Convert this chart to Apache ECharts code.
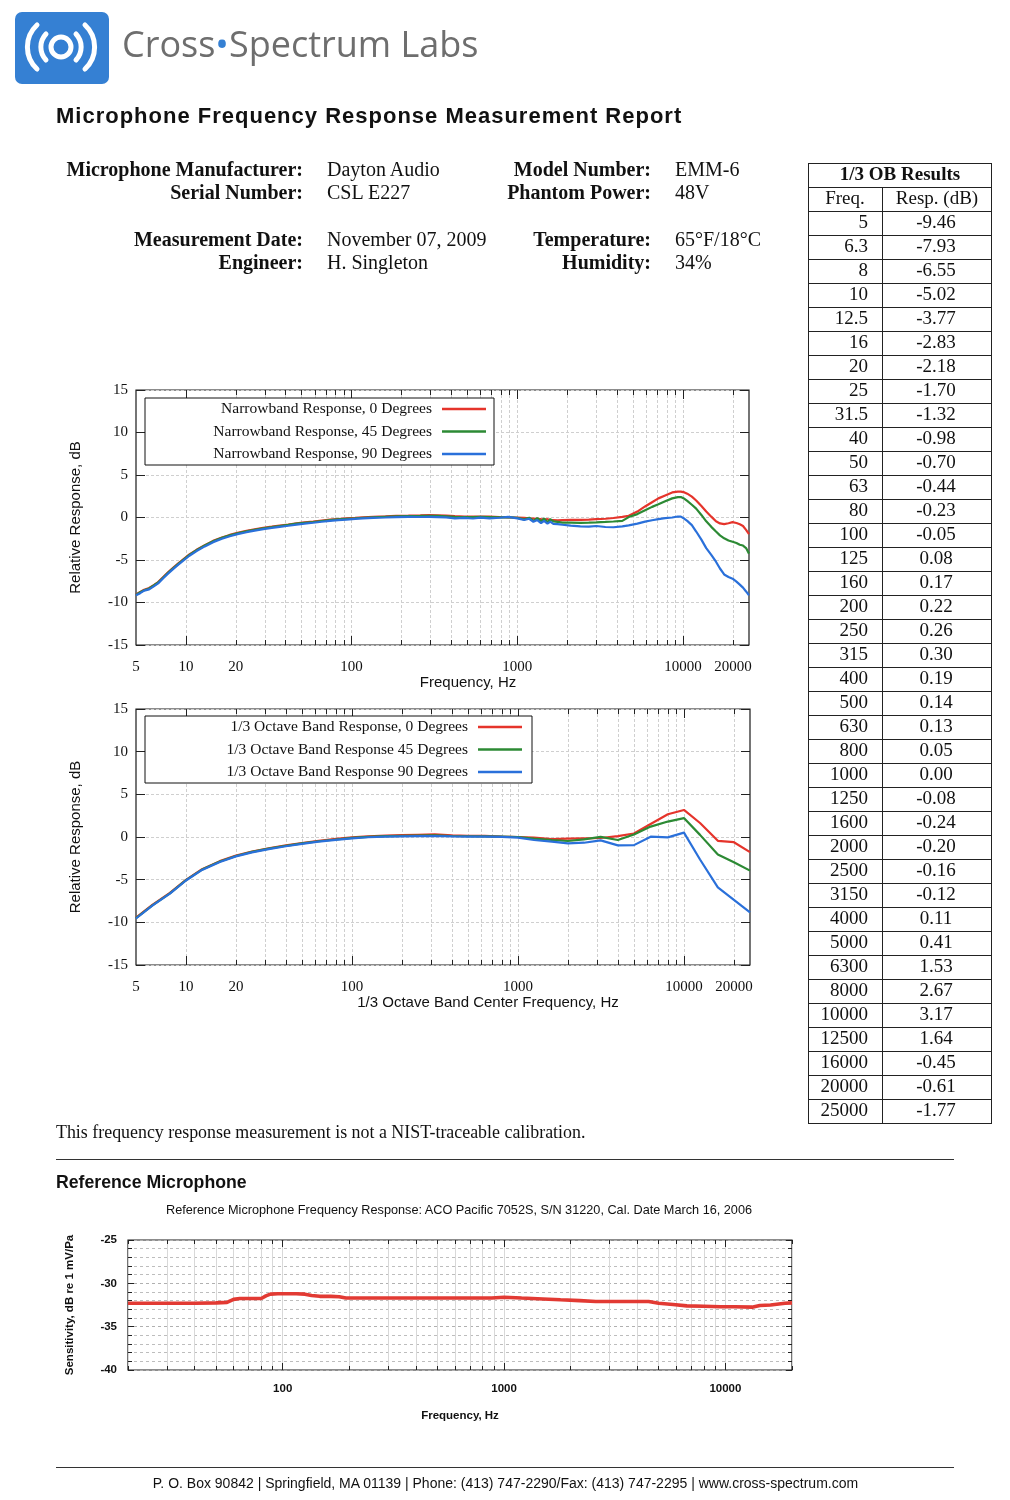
<!DOCTYPE html>
<html>
<head>
<meta charset="utf-8">
<script src="https://cdn.jsdelivr.net/npm/echarts@6/dist/echarts.min.js"></script>
<style>
html,body{margin:0;padding:0;background:#fff;}
#page{position:relative;width:1010px;height:1500px;overflow:hidden;background:#fff;}
#chart{position:absolute;left:0;top:0;width:1010px;height:1500px;}
.t{position:absolute;white-space:nowrap;line-height:1;color:#111;}
.serif{font-family:"Liberation Serif","Times New Roman",serif;}
.sans{font-family:"Liberation Sans",Arial,sans-serif;}
.b{font-weight:bold;}
.r{text-align:right;}
.rule{position:absolute;left:56px;width:898px;height:1px;background:#333;}
</style>
</head>
<body>
<div id="page">
  <div id="chart"></div>

  <svg style="position:absolute;left:15px;top:12px" width="94" height="72" viewBox="0 0 94 72">
    <rect x="0" y="0" width="94" height="72" rx="7" ry="7" fill="#3580d3"/>
    <circle cx="46" cy="35" r="10" fill="none" stroke="#fff" stroke-width="5"/>
    <path d="M31 22 A19 19 0 0 0 31 48" fill="none" stroke="#fff" stroke-width="5" stroke-linecap="round"/>
    <path d="M61 22 A19 19 0 0 1 61 48" fill="none" stroke="#fff" stroke-width="5" stroke-linecap="round"/>
    <path d="M22 13 A30 30 0 0 0 22 57" fill="none" stroke="#fff" stroke-width="5" stroke-linecap="round"/>
    <path d="M70 13 A30 30 0 0 1 70 57" fill="none" stroke="#fff" stroke-width="5" stroke-linecap="round"/>
  </svg>
  <div class="t" style="left:122px;top:26px;font-family:'Open Sans',sans-serif;font-size:36px;color:#6e6e6e;">Cross<span style="color:#3580d3">•</span>Spectrum Labs</div>

  <div class="t sans b" style="left:56px;top:105px;font-size:22px;letter-spacing:1px;">Microphone Frequency Response Measurement Report</div>

  <div class="t serif b r" style="right:707px;top:159px;font-size:20px;">Microphone Manufacturer:</div>
  <div class="t serif b r" style="right:707px;top:182px;font-size:20px;">Serial Number:</div>
  <div class="t serif b r" style="right:707px;top:229px;font-size:20px;">Measurement Date:</div>
  <div class="t serif b r" style="right:707px;top:252px;font-size:20px;">Engineer:</div>
  <div class="t serif" style="left:327px;top:159px;font-size:20px;">Dayton Audio</div>
  <div class="t serif" style="left:327px;top:182px;font-size:20px;">CSL E227</div>
  <div class="t serif" style="left:327px;top:229px;font-size:20px;">November 07, 2009</div>
  <div class="t serif" style="left:327px;top:252px;font-size:20px;">H. Singleton</div>

  <div class="t serif b r" style="right:359px;top:159px;font-size:20px;">Model Number:</div>
  <div class="t serif b r" style="right:359px;top:182px;font-size:20px;">Phantom Power:</div>
  <div class="t serif b r" style="right:359px;top:229px;font-size:20px;">Temperature:</div>
  <div class="t serif b r" style="right:359px;top:252px;font-size:20px;">Humidity:</div>
  <div class="t serif" style="left:675px;top:159px;font-size:20px;">EMM-6</div>
  <div class="t serif" style="left:675px;top:182px;font-size:20px;">48V</div>
  <div class="t serif" style="left:675px;top:229px;font-size:20px;">65°F/18°C</div>
  <div class="t serif" style="left:675px;top:252px;font-size:20px;">34%</div>

  <div id="tbl"></div>

  <div class="t serif" style="left:56px;top:1124px;font-size:17.9px;">This frequency response measurement is not a NIST-traceable calibration.</div>
  <div class="rule" style="top:1159px;"></div>
  <div class="t sans b" style="left:56px;top:1174px;font-size:17.7px;">Reference Microphone</div>
  <div class="t sans" style="left:0;width:918px;text-align:center;top:1204px;font-size:12.7px;">Reference Microphone Frequency Response: ACO Pacific 7052S, S/N 31220, Cal. Date March 16, 2006</div>
  <div class="rule" style="top:1467px;"></div>
  <div class="t sans" style="left:0;width:1011px;text-align:center;top:1476px;font-size:14px;">P. O. Box 90842 | Springfield, MA 01139 | Phone: (413) 747-2290/Fax: (413) 747-2295 | www.cross-spectrum.com</div>
</div>

<script>
// ---------------- DATA ----------------
// Narrowband responses (Hz, dB)
const nbFreq = [5, 5.3, 5.6, 6.0, 6.4, 6.8, 7.3, 7.8, 8.4, 9.0,
  9.6, 10.5, 11.6, 13, 14.6, 16.5, 18.4, 20.5, 23.2, 26,
  29.3, 33, 36.8, 41.5, 46.5, 52, 58.6, 66, 74, 83,
  93, 105, 117, 135, 160, 186, 220, 260, 294, 330,
  372, 420, 480, 540, 600, 680, 780, 880, 1000, 1100,
  1180, 1250, 1320, 1390, 1450, 1520, 1580, 1650, 1750, 1870,
  2100, 2400, 2700, 3000, 3400, 3800, 4300, 4700, 5300, 5900,
  6500, 7100, 7800, 8600, 9300, 9700, 10200, 10600, 11300, 12000,
  12900, 13800, 14800, 15800, 16700, 17700, 18800, 19900, 21000, 22000,
  23000, 24000, 25000];
const nb0 = [-9.05, -8.75, -8.5, -8.3, -7.95, -7.6, -7.0, -6.45, -5.9, -5.4,
  -4.95, -4.35, -3.8, -3.25, -2.75, -2.35, -2.05, -1.8, -1.58, -1.4,
  -1.22, -1.08, -0.95, -0.82, -0.68, -0.58, -0.48, -0.36, -0.26, -0.18,
  -0.1, -0.04, 0.02, 0.08, 0.14, 0.2, 0.22, 0.25, 0.28, 0.26,
  0.22, 0.16, 0.12, 0.1, 0.12, 0.1, 0.06, 0.02, 0.0, -0.05,
  -0.1, -0.12, -0.15, -0.2, -0.24, -0.2, -0.28, -0.3, -0.34, -0.3,
  -0.28, -0.27, -0.24, -0.2, -0.15, -0.06, 0.08, 0.2, 0.7, 1.3,
  1.8, 2.25, 2.6, 2.95, 3.05, 3.05, 2.95, 2.8, 2.45, 2.0,
  1.35, 0.7, 0.1, -0.45, -0.7, -0.78, -0.68, -0.55, -0.65, -0.8,
  -1.0, -1.45, -1.95];
const nb45 = [-9.1, -8.8, -8.55, -8.35, -8.0, -7.65, -7.05, -6.5, -5.95, -5.45,
  -5.0, -4.4, -3.85, -3.3, -2.8, -2.4, -2.1, -1.85, -1.63, -1.45,
  -1.27, -1.13, -1.0, -0.87, -0.73, -0.63, -0.53, -0.41, -0.31, -0.23,
  -0.15, -0.09, -0.03, 0.03, 0.09, 0.14, 0.16, 0.18, 0.2, 0.18,
  0.14, 0.08, 0.06, 0.05, 0.08, 0.06, 0.02, 0.04, -0.05, -0.22,
  -0.02, -0.4, -0.08, -0.45, -0.12, -0.55, -0.2, -0.45, -0.52, -0.6,
  -0.6, -0.63, -0.6, -0.57, -0.52, -0.47, -0.4, 0.05, 0.4, 0.85,
  1.25, 1.55, 1.9, 2.25, 2.4, 2.4, 2.2, 1.95, 1.5, 1.05,
  0.3, -0.45, -1.1, -1.65, -2.1, -2.45, -2.7, -2.85, -3.0, -3.2,
  -3.3, -3.6, -4.25];
const nb90 = [-9.15, -8.9, -8.6, -8.45, -8.1, -7.75, -7.15, -6.6, -6.05, -5.55,
  -5.1, -4.5, -3.95, -3.4, -2.9, -2.5, -2.2, -1.95, -1.73, -1.55,
  -1.37, -1.23, -1.1, -0.97, -0.83, -0.73, -0.62, -0.5, -0.4, -0.32,
  -0.24, -0.17, -0.11, -0.05, 0.0, 0.05, 0.07, 0.06, 0.08, 0.05,
  0.02, -0.1, -0.05, -0.12, -0.02, -0.1, -0.03, 0.08, -0.1, -0.3,
  -0.15, -0.5, -0.3, -0.65, -0.4, -0.72, -0.48, -0.75, -0.78, -0.85,
  -0.95, -1.05, -1.08, -1.0, -1.12, -1.15, -1.05, -0.92, -0.72, -0.48,
  -0.32, -0.2, -0.08, 0.0, 0.12, 0.1, -0.15, -0.4, -0.9, -1.65,
  -2.6, -3.6, -4.4, -5.2, -6.0, -6.7, -7.0, -7.2, -7.55, -7.9,
  -8.25, -8.7, -9.15];

// 1/3 octave band responses (Hz, dB) — 0 degrees is also the results table
const obFreq = [5, 6.3, 8, 10, 12.5, 16, 20, 25, 31.5, 40, 50, 63, 80, 100, 125, 160, 200, 250, 315, 400,
  500, 630, 800, 1000, 1250, 1600, 2000, 2500, 3150, 4000, 5000, 6300, 8000, 10000, 12500, 16000, 20000, 25000];
const ob0 = [-9.46, -7.93, -6.55, -5.02, -3.77, -2.83, -2.18, -1.70, -1.32, -0.98, -0.70, -0.44, -0.23, -0.05, 0.08, 0.17, 0.22, 0.26, 0.30, 0.19,
  0.14, 0.13, 0.05, 0.00, -0.08, -0.24, -0.20, -0.16, -0.12, 0.11, 0.41, 1.53, 2.67, 3.17, 1.64, -0.45, -0.61, -1.77];
const ob45 = [-9.50, -7.98, -6.60, -5.06, -3.82, -2.88, -2.23, -1.75, -1.37, -1.03, -0.75, -0.50, -0.29, -0.11, 0.02, 0.10, 0.14, 0.17, 0.19, 0.12,
  0.09, 0.08, 0.04, 0.00, -0.18, -0.35, -0.47, -0.28, 0.02, -0.35, 0.30, 1.22, 1.81, 2.22, 0.25, -2.05, -2.95, -3.94];
const ob90 = [-9.55, -8.02, -6.64, -5.10, -3.86, -2.92, -2.27, -1.80, -1.42, -1.08, -0.80, -0.55, -0.34, -0.16, -0.03, 0.05, 0.08, 0.10, 0.12, 0.08,
  0.05, 0.05, 0.02, -0.08, -0.35, -0.55, -0.75, -0.67, -0.40, -0.98, -0.95, 0.04, -0.04, 0.51, -2.64, -5.90, -7.36, -8.82];

// Reference microphone sensitivity (Hz, dB re 1 mV/Pa)
const refFreq = [20, 30, 40, 50, 56, 60, 64, 70, 80, 84, 88, 95, 105, 115, 126, 135, 147, 165, 180, 193,
  250, 350, 500, 700, 880, 1000, 1200, 1500, 1800, 2200, 2600, 3500, 4500, 5000, 5800, 6700, 8000, 9500, 11000, 13200,
  14300, 16000, 18600, 20000];
const refSens = [-32.3, -32.3, -32.3, -32.25, -32.2, -31.85, -31.75, -31.75, -31.75, -31.45, -31.25, -31.2, -31.2, -31.2, -31.25, -31.4, -31.5, -31.5, -31.55, -31.7,
  -31.7, -31.7, -31.7, -31.7, -31.7, -31.6, -31.7, -31.8, -31.9, -32.0, -32.1, -32.1, -32.1, -32.3, -32.45, -32.6, -32.65, -32.7, -32.7, -32.75,
  -32.55, -32.5, -32.3, -32.25];

// Axis tick labels
const respXLabels = [5, 10, 20, 100, 1000, 10000, 20000];
const respMajor = [10, 100, 1000, 10000];
const refXLabels = [100, 1000, 10000];
const refMajor = [100, 1000, 10000];
const mantissas = [1, 2, 3, 4, 5, 6, 7, 8, 9];

const nbNames = ['Narrowband Response, 0 Degrees', 'Narrowband Response, 45 Degrees', 'Narrowband Response, 90 Degrees'];
const obNames = ['1/3 Octave Band Response, 0 Degrees', '1/3 Octave Band Response 45 Degrees', '1/3 Octave Band Response 90 Degrees'];
const colors = ['#e5342b', '#2c8a34', '#2a70da'];

// ---------------- TABLE ----------------
(function () {
  const X0 = 808, X1 = 992, XD = 882, Y0 = 163, ROW = 24;
  const nRows = obFreq.length + 2;
  let h = '';
  h += `<div style="position:absolute;left:${X0}px;top:${Y0}px;width:${X1 - X0}px;height:${ROW * nRows + 1}px;border:1.5px solid #222;box-sizing:border-box"></div>`;
  for (let k = 1; k < nRows; k++) {
    h += `<div style="position:absolute;left:${X0}px;top:${Y0 + k * ROW}px;width:${X1 - X0}px;height:1px;background:#222"></div>`;
  }
  h += `<div style="position:absolute;left:${XD}px;top:${Y0 + ROW}px;width:1px;height:${ROW * (nRows - 1)}px;background:#222"></div>`;
  const cell = (txt, left, width, top, align, extra) =>
    `<div class="serif" style="position:absolute;left:${left}px;width:${width}px;top:${top}px;line-height:21px;font-size:19px;color:#111;white-space:nowrap;text-align:${align};${extra || ''}">${txt}</div>`;
  h += cell('1/3 OB Results', X0, X1 - X0, Y0, 'center', 'font-weight:bold;');
  h += cell('Freq.', X0, XD - X0, Y0 + ROW, 'center');
  h += cell('Resp. (dB)', XD, X1 - XD, Y0 + ROW, 'center');
  obFreq.forEach((f, i) => {
    const top = Y0 + (i + 2) * ROW;
    h += cell(String(f), X0, XD - X0 - 14, top, 'right');
    h += cell(ob0[i].toFixed(2), XD, X1 - XD - 2, top, 'center');
  });
  document.getElementById('tbl').innerHTML = h;
})();

// ---------------- CHARTS ----------------
const L = v => Math.log10(v);
const SERIF = '"Liberation Serif","Times New Roman",serif';
const SANS = '"Liberation Sans",Arial,sans-serif';

function logGridFreqs(lo, hi) {
  const out = [];
  for (let e = 0; e <= 5; e++) {
    for (const m of mantissas) {
      const f = m * Math.pow(10, e);
      if (f >= lo && f <= hi) out.push(f);
    }
  }
  return out;
}

function freqAxes(gi, fmin, fmax, labelFreqs, minorFreqs, majorFreqs, cfg) {
  const common = {
    type: 'value', gridIndex: gi, min: L(fmin), max: L(fmax),
    axisLine: { show: false, onZero: false }, axisLabel: { show: false },
    splitLine: { show: false }, axisPointer: { show: false }
  };
  const tick = (vals, len) => ({ show: true, inside: true, length: len, customValues: vals.map(L), lineStyle: { color: '#222', width: 1 } });
  return [
    Object.assign({}, common, {
      position: 'bottom',
      name: cfg.name, nameLocation: 'middle', nameGap: cfg.nameGap, nameMoveOverlap: false,
      nameTextStyle: cfg.nameStyle,
      axisLabel: Object.assign({ show: true, customValues: labelFreqs.map(L), formatter: v => String(Math.round(Math.pow(10, v))) }, cfg.labelStyle),
      axisTick: tick(minorFreqs, cfg.minorLen),
      splitLine: { show: true, lineStyle: cfg.gridStyle }
    }),
    Object.assign({}, common, { position: 'top', axisTick: tick(minorFreqs, cfg.minorLen) }),
    Object.assign({}, common, { position: 'bottom', axisTick: tick(majorFreqs, cfg.majorLen) }),
    Object.assign({}, common, { position: 'top', axisTick: tick(majorFreqs, cfg.majorLen) })
  ];
}

function dbAxes(gi, min, max, interval, cfg) {
  const common = {
    type: 'value', gridIndex: gi, min: min, max: max, interval: interval,
    axisLine: { show: false, onZero: false }, splitLine: { show: false }, axisPointer: { show: false }
  };
  const tickStyle = { show: true, inside: true, length: cfg.tickLen, lineStyle: { color: '#222', width: 1 } };
  const minorTick = cfg.minor ? { show: true, splitNumber: cfg.minor, length: cfg.minorLen, lineStyle: { color: '#222', width: 1 } } : { show: false };
  return [
    Object.assign({}, common, {
      position: 'left',
      name: cfg.name, nameLocation: 'middle', nameRotate: 90, nameGap: cfg.nameGap, nameMoveOverlap: false,
      nameTextStyle: cfg.nameStyle,
      axisLabel: Object.assign({ show: true }, cfg.labelStyle),
      axisTick: tickStyle,
      minorTick: minorTick,
      splitLine: { show: true, lineStyle: cfg.gridStyle },
      minorSplitLine: cfg.minor ? { show: true, lineStyle: cfg.minorGridStyle } : { show: false }
    }),
    Object.assign({}, common, { position: 'right', axisLabel: { show: false }, axisTick: tickStyle, minorTick: minorTick })
  ];
}

const respGrid = { color: '#cfcfcf', width: 1, type: [3, 2] };
const respLabel = { fontFamily: SERIF, fontSize: 15, color: '#111', margin: 15 };
const respYLabel = { fontFamily: SERIF, fontSize: 15, color: '#111', margin: 8 };
const respName = { fontFamily: SANS, fontSize: 15, color: '#111' };

const minor1 = logGridFreqs(10, 20000);
const minorRef = logGridFreqs(20, 20000);

const xAxes = []
  .concat(freqAxes(0, 5, 25000, respXLabels, minor1, respMajor, {
    name: 'Frequency, Hz', nameGap: 30, nameStyle: Object.assign({ padding: [0, 0, 0, 51] }, respName),
    labelStyle: respLabel, minorLen: 5, majorLen: 9, gridStyle: respGrid }))
  .concat(freqAxes(1, 5, 25000, respXLabels, minor1, respMajor, {
    name: '1/3 Octave Band Center Frequency, Hz', nameGap: 30, nameStyle: Object.assign({ padding: [0, 0, 0, 90] }, respName),
    labelStyle: respLabel, minorLen: 5, majorLen: 9, gridStyle: respGrid }))
  .concat(freqAxes(2, 20, 20000, refXLabels, minorRef, refMajor, {
    name: 'Frequency, Hz', nameGap: 40, nameStyle: { fontFamily: SANS, fontSize: 11.5, fontWeight: 'bold', color: '#111' },
    labelStyle: { fontFamily: SANS, fontSize: 11.5, fontWeight: 'bold', color: '#111', margin: 13 },
    minorLen: 4, majorLen: 7, gridStyle: { color: '#d8d8d8', width: 1, type: 'solid' } }));

const yAxes = []
  .concat(dbAxes(0, -15, 15, 5, { name: 'Relative Response, dB', nameGap: 53, nameStyle: respName, labelStyle: respYLabel, tickLen: 9, gridStyle: respGrid }))
  .concat(dbAxes(1, -15, 15, 5, { name: 'Relative Response, dB', nameGap: 53, nameStyle: respName, labelStyle: respYLabel, tickLen: 9, gridStyle: respGrid }))
  .concat(dbAxes(2, -40, -25, 5, {
    name: 'Sensitivity, dB re 1 mV/Pa', nameGap: 52,
    nameStyle: { fontFamily: SANS, fontSize: 11.5, fontWeight: 'bold', color: '#111' },
    labelStyle: { fontFamily: SANS, fontSize: 11.5, fontWeight: 'bold', color: '#111', margin: 11 },
    tickLen: 6, minor: 5, minorLen: 4,
    gridStyle: { color: '#b0b0b0', width: 1, type: [3, 3] },
    minorGridStyle: { color: '#bdbdbd', width: 1, type: [3, 3] }
  }));

function lineSeries(name, freqs, vals, xi, yi, color, width) {
  return {
    type: 'line', name: name, xAxisIndex: xi, yAxisIndex: yi,
    data: freqs.map((f, i) => [L(f), vals[i]]),
    showSymbol: false, symbol: 'none', smooth: false, animation: false,
    lineStyle: { color: color, width: width }, itemStyle: { color: color },
    emphasis: { disabled: true }
  };
}

const series = [
  lineSeries(nbNames[0], nbFreq, nb0, 0, 0, colors[0], 2.2),
  lineSeries(nbNames[1], nbFreq, nb45, 0, 0, colors[1], 2.2),
  lineSeries(nbNames[2], nbFreq, nb90, 0, 0, colors[2], 2.2),
  lineSeries(obNames[0], obFreq, ob0, 4, 2, colors[0], 2.2),
  lineSeries(obNames[1], obFreq, ob45, 4, 2, colors[1], 2.2),
  lineSeries(obNames[2], obFreq, ob90, 4, 2, colors[2], 2.2),
  lineSeries('Reference Microphone', refFreq, refSens, 8, 4, '#e23a33', 3.6)
];

function legendCfg(names, right, top) {
  return {
    data: names, orient: 'vertical', align: 'right', right: right, top: top,
    padding: 0, itemGap: 6.5, itemWidth: 44, itemHeight: 2.5, icon: 'rect',
    selectedMode: false, z: 5,
    textStyle: { fontFamily: SERIF, fontSize: 15.5, color: '#111', lineHeight: 16, padding: [0, 5, 0, 0] }
  };
}

const gridBase = { show: true, borderColor: '#1a1a1a', borderWidth: 1.2, backgroundColor: 'transparent', containLabel: false, outerBoundsMode: 'none' };

const option = {
  animation: false,
  backgroundColor: 'transparent',
  grid: [
    Object.assign({ left: 136, top: 390, width: 613, height: 255 }, gridBase),
    Object.assign({ left: 136, top: 709, width: 614, height: 256 }, gridBase),
    Object.assign({ left: 128, top: 1240, width: 664, height: 130 }, gridBase)
  ],
  xAxis: xAxes,
  yAxis: yAxes,
  legend: [legendCfg(nbNames, 524, 401), legendCfg(obNames, 488, 719)],
  graphic: [
    { type: 'rect', z: 3, shape: { x: 145, y: 398, width: 349, height: 67 }, style: { fill: '#fff', stroke: '#111', lineWidth: 1 } },
    { type: 'rect', z: 3, shape: { x: 145, y: 716, width: 387, height: 67 }, style: { fill: '#fff', stroke: '#111', lineWidth: 1 } }
  ],
  series: series
};

const chart = echarts.init(document.getElementById('chart'), null, { renderer: 'canvas' });
chart.setOption(option);
</script>
</body>
</html>
